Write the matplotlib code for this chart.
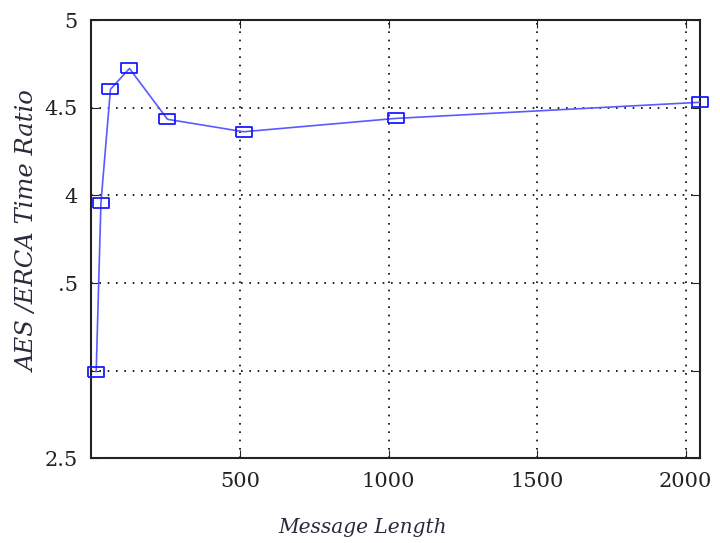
import matplotlib
matplotlib.use('Agg')
import matplotlib.pyplot as plt
import numpy as np

# message length (bytes) and AES/ERCA time ratio
msg_len = [16, 32, 64, 128, 256, 512, 1024, 2048]
ratio = [2.995, 3.958, 4.605, 4.724, 4.434, 4.363, 4.439, 4.531]

x_ticks = [500, 1000, 1500, 2000]
y_ticks = [2.5, 3.0, 3.5, 4.0, 4.5, 5.0]
y_ticklabels = ['2.5', '', '.5', '4', '4.5', '5']

fig = plt.figure(figsize=(7.2, 5.43), dpi=100)
ax = fig.add_axes([0.127, 0.156, 0.845, 0.807])

# wide, flat box marker like the original
box = [(-1.5, -1), (1.5, -1), (1.5, 1), (-1.5, 1), (-1.5, -1)]
ax.plot(msg_len, ratio, color='#5a5aff', lw=1.2, zorder=3)
ax.plot(msg_len, ratio, ls='none', marker=box, ms=11, mfc='none',
        mec='#1a1aff', mew=1.3, zorder=4, clip_on=False)

ax.set_xlim(0, 2048)
ax.set_ylim(2.5, 5)
ax.set_xticks(x_ticks)
ax.set_xticklabels([str(t) for t in x_ticks])
ax.set_yticks(y_ticks)
ax.set_yticklabels(y_ticklabels)

ax.grid(True, color='black', ls=(0, (1, 4)), lw=1.2)
ax.tick_params(direction='in', top=True, right=True, length=6,
               labelsize=15, pad=10, colors='#222222')
for lab in ax.get_xticklabels() + ax.get_yticklabels():
    lab.set_family('DejaVu Serif')
for sp in ax.spines.values():
    sp.set_linewidth(1.5)
    sp.set_color('#222222')

fig.text(0.040, 0.574, 'AES /ERCA Time Ratio', rotation=90, ha='center', va='center',
         fontsize=17.5, style='italic', family='DejaVu Serif', color='#2a2a3a')
fig.text(0.504, 0.028, 'Message Length', ha='center', va='center',
         fontsize=14.5, style='italic', family='DejaVu Serif', color='#2a2a3a')

fig.savefig('out.png', dpi=100)
